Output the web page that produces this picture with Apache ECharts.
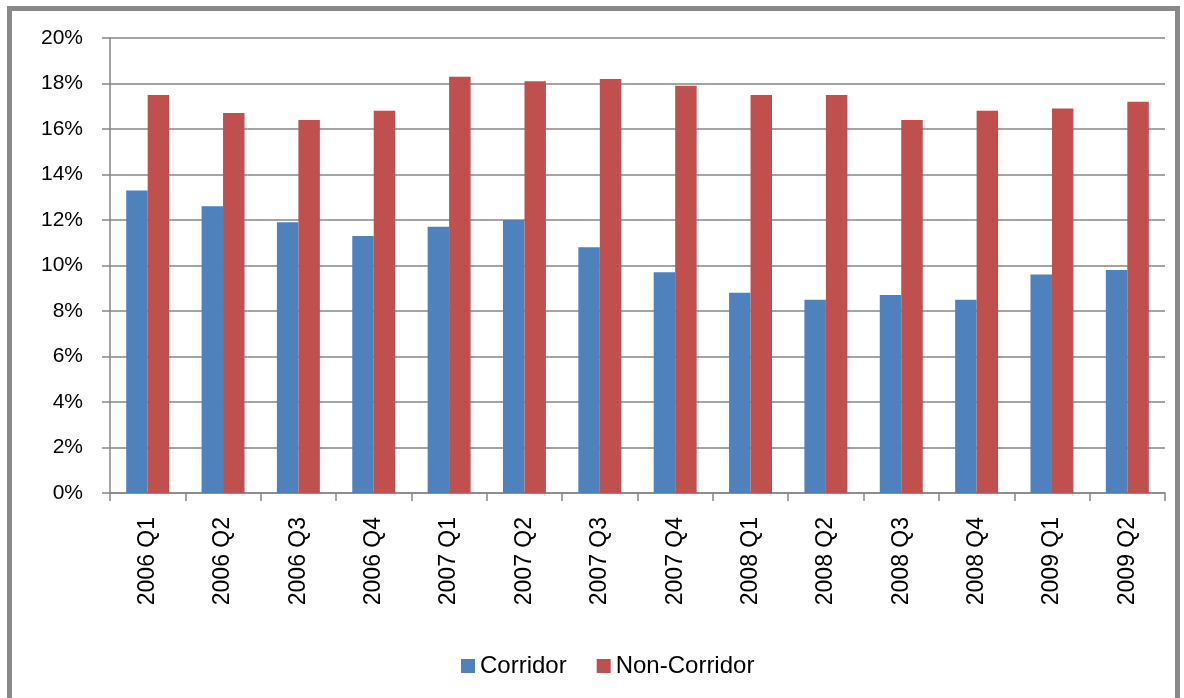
<!DOCTYPE html>
<html><head><meta charset="utf-8">
<script src="https://cdn.jsdelivr.net/npm/echarts@6/dist/echarts.min.js"></script>
<style>html,body{margin:0;padding:0;background:#fff}#c{width:1184px;height:698px}</style>
</head><body><div id="c"></div>
<script>
const categories = ['2006 Q1','2006 Q2','2006 Q3','2006 Q4','2007 Q1','2007 Q2','2007 Q3','2007 Q4','2008 Q1','2008 Q2','2008 Q3','2008 Q4','2009 Q1','2009 Q2'];
const corridor = [13.3,12.6,11.9,11.3,11.7,12.0,10.8,9.7,8.8,8.5,8.7,8.5,9.6,9.8];
const nonCorridor = [17.5,16.7,16.4,16.8,18.3,18.1,18.2,17.9,17.5,17.5,16.4,16.8,16.9,17.2];
const seriesNames = ['Corridor','Non-Corridor'];
const font = 'Liberation Sans, Arial, sans-serif';
const chart = echarts.init(document.getElementById('c'));
chart.setOption({
  animation:false,
  backgroundColor:'#fff',
  graphic:[{type:'rect',shape:{x:9.5,y:8.5,width:1168,height:700},style:{fill:'none',stroke:'#898989',lineWidth:5},silent:true}],
  grid:{left:110,right:19,top:38,bottom:205,containLabel:false},
  legend:{data:seriesNames,top:649,left:456,itemWidth:14,itemHeight:14,itemGap:30,icon:'rect',
    textStyle:{fontFamily:font,fontSize:24,color:'#000'}},
  xAxis:{type:'category',data:categories,boundaryGap:true,
    axisLine:{lineStyle:{color:'#868686',width:1.5}},
    axisTick:{show:true,alignWithLabel:false,length:8,lineStyle:{color:'#868686',width:1.5}},
    axisLabel:{rotate:90,margin:24,fontFamily:font,fontSize:23,color:'#000',interval:0}},
  yAxis:{type:'value',min:0,max:20,interval:2,
    axisLine:{show:true,lineStyle:{color:'#868686',width:1.5}},
    axisTick:{show:true,length:8,lineStyle:{color:'#868686',width:1.5}},
    splitLine:{lineStyle:{color:'#868686',width:1.5}},
    axisLabel:{formatter:'{value}%',fontFamily:font,fontSize:21,color:'#000',margin:27}},
  series:[
    {name:seriesNames[0],type:'bar',data:corridor,barGap:'0%',barCategoryGap:'43%',itemStyle:{color:'#4F81BD'}},
    {name:seriesNames[1],type:'bar',data:nonCorridor,barGap:'0%',barCategoryGap:'43%',itemStyle:{color:'#C0504D'}}
  ]
});
</script></body></html>
